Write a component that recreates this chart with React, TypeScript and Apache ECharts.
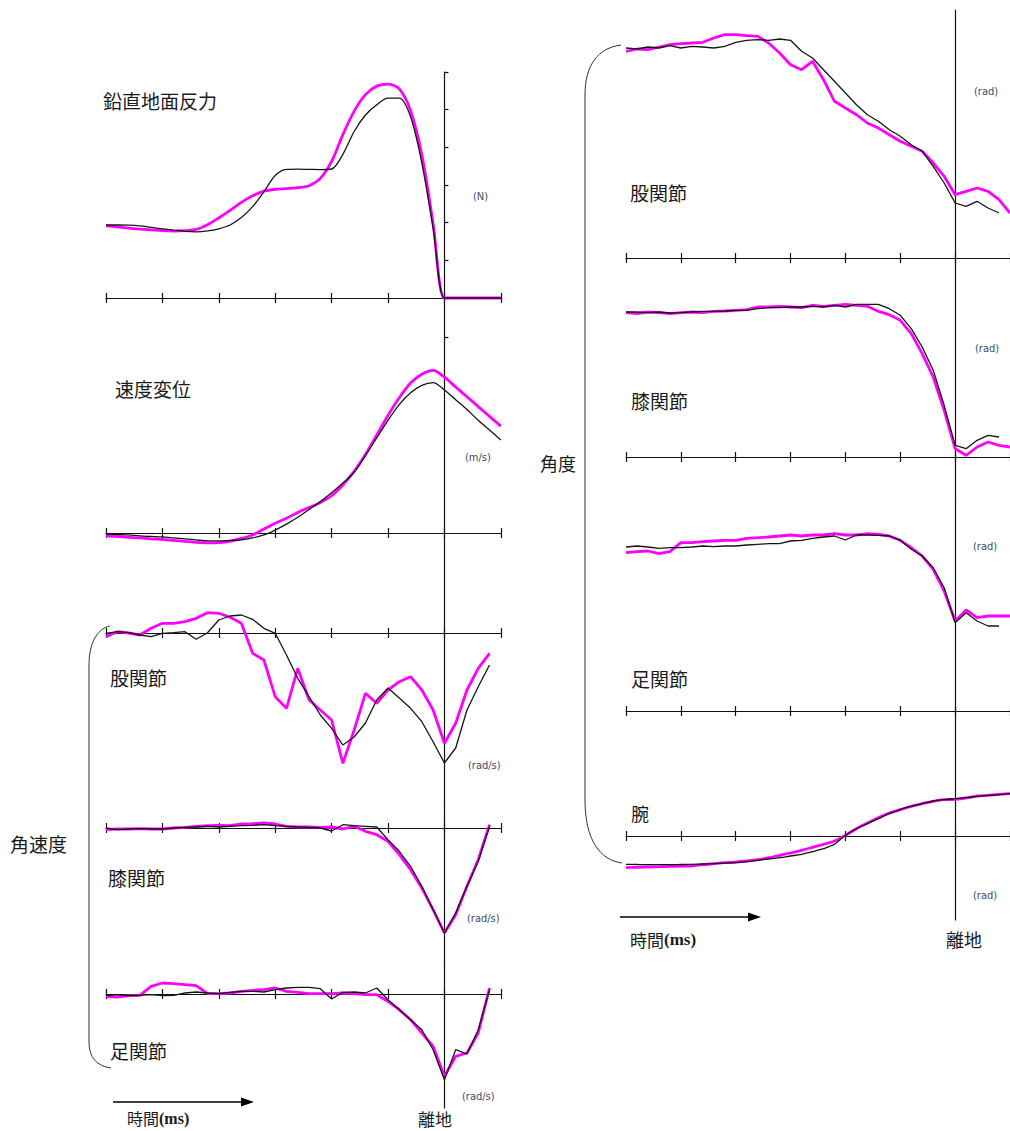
import React, { useEffect, useRef } from "react";
import * as echarts from "echarts";

// time (ms) relative to take-off
const TIME = [-300, -290, -280, -270, -260, -250, -240, -230, -220, -210, -200, -190, -180, -170, -160, -150, -140, -130, -120, -110, -100, -90, -80, -70, -60, -50, -40, -30, -20, -10, 0, 10, 20, 30, 40, 50];
const TIME_TICKS = [-300, -250, -200, -150, -100, -50, 0, 50];
const GRF_TICKS = [0, 400, 800, 1200, 1600, 2000, 2400];
const VEL_TICKS = [2];

// 鉛直地面反力 (N)
const GRF_BLACK = [775, 775, 773, 765, 750, 735, 721, 708, 703, 712, 735, 775, 855, 970, 1128, 1300, 1365, 1368, 1366, 1364, 1370, 1526, 1768, 1943, 2052, 2123, 2122, 1924, 1433, 740, 0, 0, 0, 0, 0, 0];
const GRF_MAGENTA = [767, 755, 742, 732, 724, 716, 711, 715, 728, 778, 850, 930, 1015, 1085, 1135, 1155, 1162, 1172, 1192, 1270, 1450, 1735, 1985, 2160, 2250, 2272, 2220, 1990, 1520, 790, 0, 0, 0, 0, 0, 0];

// 速度変位 (m/s)
const VEL_BLACK = [-0.01, -0.015, -0.02, -0.03, -0.035, -0.04, -0.05, -0.06, -0.07, -0.08, -0.08, -0.075, -0.07, -0.05, -0.02, 0.03, 0.09, 0.16, 0.24, 0.32, 0.41, 0.51, 0.62, 0.79, 0.97, 1.15, 1.31, 1.43, 1.507, 1.535, 1.46, 1.36, 1.26, 1.15, 1.05, 0.95];
const VEL_MAGENTA = [-0.03, -0.035, -0.045, -0.05, -0.06, -0.065, -0.075, -0.085, -0.095, -0.1, -0.098, -0.085, -0.055, -0.02, 0.04, 0.1, 0.15, 0.21, 0.26, 0.31, 0.38, 0.49, 0.63, 0.8, 1.0, 1.2, 1.38, 1.53, 1.62, 1.66, 1.59, 1.49, 1.39, 1.29, 1.19, 1.09];

// 角速度 (rad/s)
const HIP_AV_BLACK = [-0.03, 0.13, 0.03, -0.2, -0.37, -0.03, 0.03, 0.13, -0.63, 0.03, 1.3, 1.7, 1.8, 1.37, 0.47, -0.03, -2.2, -4.53, -6.37, -8.2, -9.53, -11.2, -10.4, -9.0, -6.7, -5.5, -6.5, -7.53, -8.87, -10.87, -13.0, -11.5, -7.7, -5.37, -3.2, null];
const HIP_AV_MAGENTA = [-0.37, 0.13, 0, -0.2, 0.47, 0.97, 0.97, 1.13, 1.47, 2.03, 1.97, 1.57, 0.97, -2.03, -2.7, -6.37, -7.53, -3.53, -6.7, -7.7, -8.7, -13.03, -9.7, -6.03, -7.03, -5.7, -4.87, -4.37, -5.7, -7.7, -11.03, -9.03, -5.7, -3.53, -2.03, null];
const KNEE_AV_BLACK = [0, -0.17, -0.1, -0.07, -0.1, -0.1, 0, 0.07, 0.1, 0.17, 0.1, 0.17, 0.23, 0.27, 0.33, 0.23, 0.17, 0.1, 0.07, 0, -0.3, 0.33, 0.23, 0.17, 0.1, -1.17, -2.33, -3.83, -5.83, -8.17, -10.5, -8.5, -5.83, -3.33, 0.17, null];
const KNEE_AV_MAGENTA = [-0.17, -0.1, -0.1, -0.07, -0.1, -0.1, 0, 0.07, 0.17, 0.23, 0.27, 0.23, 0.4, 0.43, 0.5, 0.4, 0.17, 0.1, 0.1, 0.07, 0.1, -0.1, 0.17, -0.33, -0.67, -1.33, -2.67, -4.17, -6.0, -8.17, -10.5, -8.67, -5.83, -3.17, 0.33, null];
const ANKLE_AV_BLACK = [-0.17, -0.07, -0.17, -0.13, -0.07, -0.17, -0.13, 0.1, 0.2, 0.1, 0.03, 0.17, 0.27, 0.27, 0.2, 0.43, 0.6, 0.67, 0.67, 0.53, -0.5, 0.17, 0.2, 0.1, 0.6, -0.57, -1.57, -2.57, -3.57, -5.57, -8.57, -5.57, -6.0, -3.57, 0.43, null];
const ANKLE_AV_MAGENTA = [-0.23, -0.3, -0.17, -0.13, 0.77, 1.1, 1.03, 0.93, 0.83, 0.03, 0.03, 0.1, 0.27, 0.37, 0.43, 0.6, 0.27, 0.17, 0.03, 0.03, 0.03, 0.1, 0.03, -0.07, -0.07, -0.73, -1.57, -2.57, -3.9, -5.23, -8.23, -6.23, -5.9, -3.9, 0.6, null];

// 角度 (rad)
const HIP_ANG_BLACK = [2.1, 2.09, 2.11, 2.1, 2.123, 2.1, 2.117, 2.11, 2.1, 2.117, 2.157, 2.177, 2.183, 2.177, 2.19, 2.177, 2.067, 2.0, 1.883, 1.767, 1.65, 1.533, 1.433, 1.367, 1.283, 1.217, 1.133, 1.067, 0.917, 0.75, 0.55, 0.517, 0.567, 0.5, 0.45, null];
const HIP_ANG_MAGENTA = [2.067, 2.09, 2.083, 2.11, 2.133, 2.143, 2.15, 2.157, 2.2, 2.233, 2.233, 2.223, 2.217, 2.15, 2.05, 1.933, 1.883, 1.967, 1.783, 1.567, 1.5, 1.433, 1.35, 1.3, 1.233, 1.167, 1.117, 1.067, 0.95, 0.817, 0.633, 0.667, 0.7, 0.667, 0.583, 0.45];
const KNEE_ANG_BLACK = [1.45, 1.45, 1.443, 1.45, 1.44, 1.443, 1.45, 1.457, 1.457, 1.46, 1.467, 1.467, 1.483, 1.493, 1.493, 1.5, 1.5, 1.507, 1.5, 1.517, 1.5, 1.527, 1.527, 1.527, 1.483, 1.417, 1.283, 1.1, 0.867, 0.517, 0.117, 0.083, 0.167, 0.217, 0.2, null];
const KNEE_ANG_MAGENTA = [1.443, 1.433, 1.45, 1.443, 1.433, 1.443, 1.45, 1.443, 1.457, 1.46, 1.467, 1.473, 1.5, 1.5, 1.507, 1.5, 1.493, 1.517, 1.507, 1.517, 1.527, 1.517, 1.507, 1.457, 1.423, 1.367, 1.233, 1.033, 0.8, 0.467, 0.083, 0.017, 0.1, 0.15, 0.117, 0.1];
const ANKLE_ANG_BLACK = [1.64, 1.65, 1.64, 1.627, 1.633, 1.633, 1.64, 1.65, 1.643, 1.65, 1.65, 1.66, 1.667, 1.673, 1.673, 1.7, 1.707, 1.727, 1.74, 1.75, 1.71, 1.76, 1.76, 1.757, 1.75, 1.707, 1.617, 1.55, 1.433, 1.233, 0.883, 0.983, 0.9, 0.85, 0.85, null];
const ANKLE_ANG_MAGENTA = [1.583, 1.593, 1.6, 1.573, 1.593, 1.683, 1.683, 1.693, 1.7, 1.707, 1.707, 1.727, 1.733, 1.74, 1.75, 1.76, 1.75, 1.76, 1.76, 1.773, 1.76, 1.76, 1.773, 1.767, 1.75, 1.707, 1.633, 1.55, 1.417, 1.2, 0.9, 1.01, 0.933, 0.95, 0.95, 0.95];
const ARM_BLACK = [-0.283, -0.285, -0.287, -0.287, -0.287, -0.285, -0.283, -0.28, -0.277, -0.272, -0.267, -0.257, -0.243, -0.23, -0.217, -0.2, -0.183, -0.157, -0.127, -0.083, 0.007, 0.073, 0.123, 0.173, 0.223, 0.267, 0.297, 0.323, 0.35, 0.363, 0.373, 0.383, 0.397, 0.407, 0.413, 0.423];
const ARM_MAGENTA = [-0.317, -0.313, -0.31, -0.307, -0.303, -0.302, -0.3, -0.287, -0.277, -0.267, -0.26, -0.25, -0.237, -0.217, -0.193, -0.17, -0.143, -0.113, -0.083, -0.05, 0.007, 0.073, 0.13, 0.183, 0.23, 0.263, 0.297, 0.323, 0.347, 0.363, 0.367, 0.38, 0.4, 0.407, 0.417, 0.423];

const MAGENTA = "#ff00ff";
const BLACK = "#151515";
const AXIS = "#111111";
const UNIT = "#3f4866";
const CJK = '"Noto Sans CJK JP", "Noto Sans CJK SC", sans-serif';
const NARROW = '"Liberation Sans Narrow", "DejaVu Sans Condensed", "Liberation Sans", sans-serif';

type Panel = {
  col: "L" | "R";
  top: number;
  bottom: number;
  axisY: number;
  pxPerUnit: number;
  black: (number | null)[];
  magenta: (number | null)[];
  ticks?: number[];
  smooth: number | boolean;
};

const COLS = {
  L: { left: 106, width: 394.8 },
  R: { left: 626, width: 389.7 },
};

const PANELS: Panel[] = [
  { col: "L", top: 72, bottom: 298, axisY: 298, pxPerUnit: 226 / 2400, black: GRF_BLACK, magenta: GRF_MAGENTA, ticks: GRF_TICKS, smooth: 0.3 },
  { col: "L", top: 298, bottom: 560, axisY: 533, pxPerUnit: 98, black: VEL_BLACK, magenta: VEL_MAGENTA, ticks: VEL_TICKS, smooth: 0.3 },
  { col: "L", top: 560, bottom: 800, axisY: 633, pxPerUnit: 10, black: HIP_AV_BLACK, magenta: HIP_AV_MAGENTA, smooth: false },
  { col: "L", top: 800, bottom: 960, axisY: 828, pxPerUnit: 10, black: KNEE_AV_BLACK, magenta: KNEE_AV_MAGENTA, smooth: false },
  { col: "L", top: 960, bottom: 1108, axisY: 994, pxPerUnit: 10, black: ANKLE_AV_BLACK, magenta: ANKLE_AV_MAGENTA, smooth: false },
  { col: "R", top: 10, bottom: 290, axisY: 258, pxPerUnit: 100, black: HIP_ANG_BLACK, magenta: HIP_ANG_MAGENTA, smooth: false },
  { col: "R", top: 290, bottom: 500, axisY: 457, pxPerUnit: 100, black: KNEE_ANG_BLACK, magenta: KNEE_ANG_MAGENTA, smooth: false },
  { col: "R", top: 500, bottom: 760, axisY: 711, pxPerUnit: 100, black: ANKLE_ANG_BLACK, magenta: ANKLE_ANG_MAGENTA, smooth: false },
  { col: "R", top: 760, bottom: 920, axisY: 836, pxPerUnit: 100, black: ARM_BLACK, magenta: ARM_MAGENTA, smooth: 0.3 },
];

function toData(values: (number | null)[]) {
  const out: [number, number][] = [];
  TIME.forEach((t, i) => {
    const v = values[i];
    if (v !== null && v !== undefined) out.push([t, v]);
  });
  return out;
}

function label(text: string, x: number, y: number, size = 18, extra: any = {}) {
  return {
    type: "text",
    x,
    y,
    silent: true,
    style: { text, fill: "#1a1a1a", fontSize: size, fontFamily: CJK, textVerticalAlign: "middle", ...extra },
  };
}

function unit(text: string, x: number, y: number) {
  return {
    type: "text",
    x,
    y,
    silent: true,
    style: { text, fill: UNIT, fontSize: 11, fontFamily: NARROW, textVerticalAlign: "middle" },
  };
}

function timeLabel(x: number, y: number, size: number) {
  return {
    type: "text",
    x,
    y,
    silent: true,
    style: {
      text: "{a|時間}{b|(ms)}",
      textVerticalAlign: "middle",
      rich: {
        a: { fill: "#1a1a1a", fontSize: size, fontFamily: CJK },
        b: { fill: "#1a1a1a", fontSize: size, fontFamily: '"Liberation Serif", serif', fontWeight: "bold" },
      },
    },
  };
}

function arrow(x1: number, x2: number, y: number) {
  return [
    { type: "line", silent: true, shape: { x1, y1: y, x2: x2 - 10, y2: y }, style: { stroke: "#000", lineWidth: 1.6 } },
    { type: "polygon", silent: true, shape: { points: [[x2 - 13, y - 4.5], [x2, y], [x2 - 13, y + 4.5]] }, style: { fill: "#000" } },
  ];
}

function buildOption() {
  const grid: any[] = [];
  const xAxis: any[] = [];
  const yAxis: any[] = [];
  const series: any[] = [];
  const axisLineStyle = { color: AXIS, width: 1.2 };

  PANELS.forEach((p, i) => {
    const col = COLS[p.col];
    const g = 2 * i;
    grid.push({ left: col.left, width: col.width, top: p.top, height: p.bottom - p.top, containLabel: false });
    grid.push({ left: col.left, width: col.width, top: p.axisY, height: 20, containLabel: false });
    const yMax = (p.axisY - p.top) / p.pxPerUnit;
    const yMin = -(p.bottom - p.axisY) / p.pxPerUnit;

    xAxis.push({
      gridIndex: g,
      type: "value",
      min: TIME_TICKS[0],
      max: TIME_TICKS[TIME_TICKS.length - 1],
      interval: 50,
      position: "bottom",
      axisLine: { show: true, onZero: true, lineStyle: axisLineStyle },
      axisTick: { show: true, length: 5, inside: false, customValues: TIME_TICKS, lineStyle: axisLineStyle },
      axisLabel: { show: false },
      splitLine: { show: false },
    });
    xAxis.push({
      gridIndex: g + 1,
      type: "value",
      min: TIME_TICKS[0],
      max: TIME_TICKS[TIME_TICKS.length - 1],
      interval: 50,
      position: "top",
      axisLine: { show: false, onZero: false },
      axisTick: { show: true, length: 5, inside: false, customValues: TIME_TICKS, lineStyle: axisLineStyle },
      axisLabel: { show: false },
      splitLine: { show: false },
    });
    yAxis.push({
      gridIndex: g,
      type: "value",
      min: yMin,
      max: yMax,
      position: "left",
      axisLine: { show: true, onZero: true, lineStyle: axisLineStyle },
      axisTick: p.ticks
        ? { show: true, inside: true, length: 4, customValues: p.ticks, lineStyle: axisLineStyle }
        : { show: false },
      axisLabel: { show: false },
      splitLine: { show: false },
    });
    yAxis.push({ gridIndex: g + 1, type: "value", show: false, min: 0, max: 1 });

    series.push({
      type: "line",
      xAxisIndex: g,
      yAxisIndex: g,
      data: toData(p.magenta),
      symbol: "none",
      showSymbol: false,
      clip: false,
      smooth: p.smooth,
      lineStyle: { color: MAGENTA, width: 2.8 },
      z: 3,
    });
    series.push({
      type: "line",
      xAxisIndex: g,
      yAxisIndex: g,
      data: toData(p.black),
      symbol: "none",
      showSymbol: false,
      clip: false,
      smooth: p.smooth,
      lineStyle: { color: BLACK, width: 1.3 },
      z: 4,
    });
  });

  const graphic: any[] = [
    // left column labels
    label("鉛直地面反力", 103, 100, 19),
    unit("(N)", 473, 196),
    label("速度変位", 115, 388, 19),
    unit("(m/s)", 465, 457),
    label("股関節", 110, 677, 19),
    unit("(rad/s)", 468, 765),
    label("膝関節", 108, 877, 19),
    unit("(rad/s)", 467, 918),
    label("足関節", 110, 1050, 19),
    unit("(rad/s)", 462, 1096),
    label("角速度", 10, 843, 19),
    ...arrow(113, 254, 1102),
    timeLabel(127, 1118, 16),
    label("離地", 418, 1118, 17),
    // right column labels
    unit("(rad)", 974, 91),
    label("股関節", 630, 192, 19),
    unit("(rad)", 975, 348),
    label("膝関節", 631, 400, 19),
    unit("(rad)", 973, 546),
    label("足関節", 631, 678, 19),
    label("腕", 631, 813, 18),
    unit("(rad)", 973, 895),
    label("角度", 540, 463, 18),
    ...arrow(620, 761, 917),
    timeLabel(630, 939, 17),
    label("離地", 946, 939, 18),
    // braces
    { type: "bezierCurve", silent: true, shape: { x1: 110, y1: 626, cpx1: 96, cpy1: 629, cpx2: 89, cpy2: 645, x2: 89, y2: 665 }, style: { stroke: "#333", lineWidth: 1, fill: null } },
    { type: "line", silent: true, shape: { x1: 89, y1: 665, x2: 89, y2: 1042 }, style: { stroke: "#333", lineWidth: 1 } },
    { type: "bezierCurve", silent: true, shape: { x1: 89, y1: 1042, cpx1: 89, cpy1: 1058, cpx2: 97, cpy2: 1066, x2: 111, y2: 1068 }, style: { stroke: "#333", lineWidth: 1, fill: null } },
    { type: "bezierCurve", silent: true, shape: { x1: 621, y1: 45, cpx1: 598, cpy1: 48, cpx2: 585, cpy2: 65, x2: 585, y2: 95 }, style: { stroke: "#333", lineWidth: 1, fill: null } },
    { type: "line", silent: true, shape: { x1: 585, y1: 95, x2: 585, y2: 800 }, style: { stroke: "#333", lineWidth: 1 } },
    { type: "bezierCurve", silent: true, shape: { x1: 585, y1: 800, cpx1: 585, cpy1: 840, cpx2: 600, cpy2: 860, x2: 622, y2: 863 }, style: { stroke: "#333", lineWidth: 1, fill: null } },
  ];

  return {
    animation: false,
    backgroundColor: "#ffffff",
    grid,
    xAxis,
    yAxis,
    series,
    graphic,
  };
}

export default function App() {
  const ref = useRef<HTMLDivElement>(null);
  useEffect(() => {
    if (!ref.current) return;
    const chart = echarts.init(ref.current, undefined, { renderer: "svg" });
    chart.setOption(buildOption() as any);
    return () => chart.dispose();
  }, []);
  return (
    <div
      ref={ref}
      style={{ position: "absolute", left: 0, top: 0, width: 1010, height: 1131, background: "#fff" }}
    />
  );
}
